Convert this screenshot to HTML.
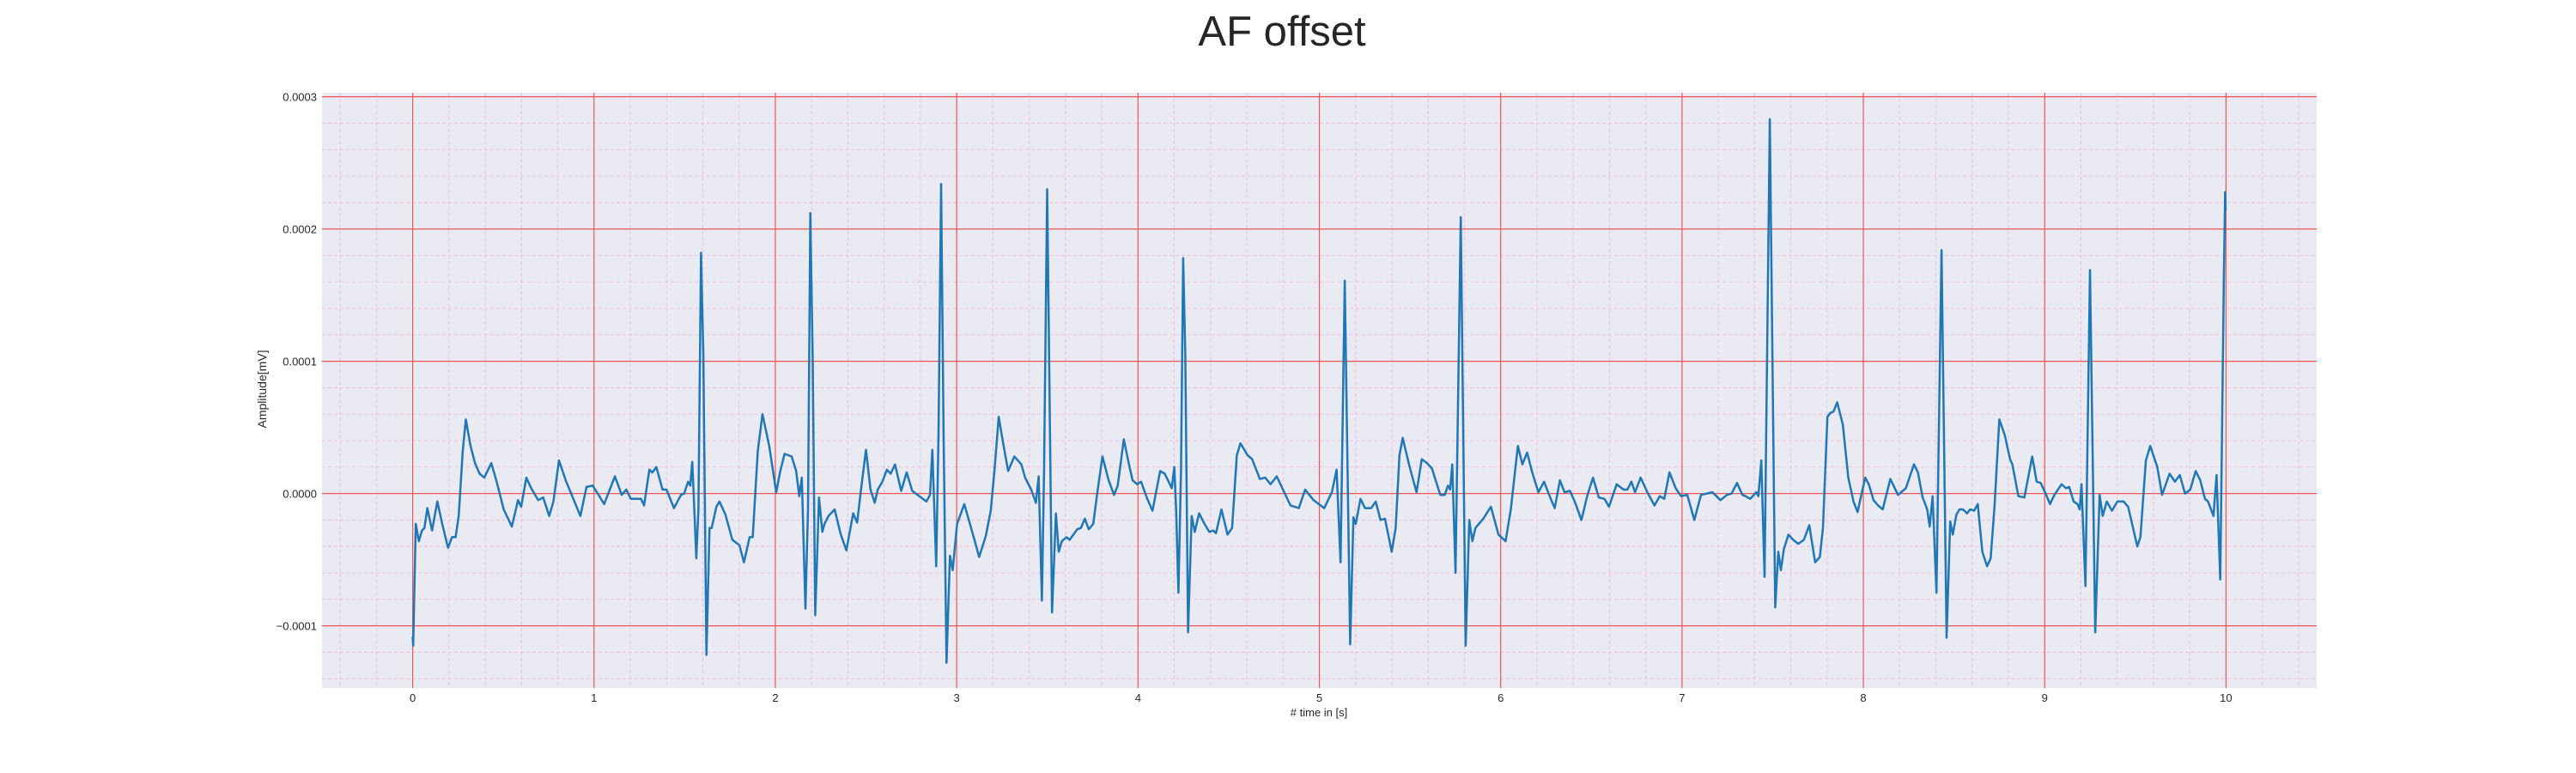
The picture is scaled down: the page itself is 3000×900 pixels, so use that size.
<!DOCTYPE html>
<html><head><meta charset="utf-8"><style>
html,body{margin:0;padding:0;background:#fff;}
svg{display:block;font-family:"Liberation Sans",sans-serif;}
</style></head><body>
<svg id="chart" width="3000" height="900" viewBox="0 0 3000 900">
<text x="1493" y="53" font-size="49" fill="#262626" text-anchor="middle">AF offset</text>
<rect x="375" y="108" width="2323" height="693" fill="#EAEAF2"/>
<g id="grid"></g>
<g id="series"></g>
<g id="ticks"></g>
<text x="1536" y="834" font-size="13" fill="#262626" text-anchor="middle"># time in [s]</text>
<text x="0" y="0" font-size="14" fill="#262626" text-anchor="middle" transform="translate(310,453) rotate(-90)">Amplitude[mV]</text>
</svg>
<script>
const xTicks=[0,1,2,3,4,5,6,7,8,9,10];
const xTickLabels=["0","1","2","3","4","5","6","7","8","9","10"];
const yTicks=[-0.0001,0,0.0001,0.0002,0.0003];
const yTickLabels=["\u22120.0001","0.0000","0.0001","0.0002","0.0003"];
const times=[0,0.003,0.017,0.034,0.051,0.065,0.081,0.107,0.136,0.163,0.195,0.217,0.237,0.254,0.276,0.293,0.319,0.344,0.369,0.395,0.434,0.463,0.502,0.547,0.581,0.598,0.627,0.654,0.692,0.720,0.753,0.776,0.807,0.844,0.895,0.925,0.959,0.993,1.056,1.115,1.153,1.178,1.203,1.259,1.276,1.305,1.322,1.344,1.378,1.4,1.441,1.480,1.497,1.519,1.531,1.542,1.553,1.564,1.576,1.590,1.603,1.620,1.637,1.649,1.675,1.692,1.725,1.763,1.802,1.827,1.858,1.875,1.903,1.929,1.966,2.005,2.027,2.051,2.090,2.115,2.132,2.146,2.166,2.180,2.193,2.206,2.220,2.241,2.259,2.271,2.293,2.327,2.361,2.392,2.429,2.451,2.475,2.500,2.525,2.548,2.565,2.590,2.615,2.636,2.660,2.694,2.724,2.755,2.794,2.833,2.853,2.866,2.887,2.900,2.914,2.928,2.944,2.963,2.978,3.002,3.042,3.073,3.098,3.124,3.161,3.188,3.208,3.232,3.259,3.284,3.318,3.357,3.377,3.411,3.437,3.452,3.470,3.482,3.499,3.512,3.526,3.547,3.563,3.580,3.606,3.623,3.665,3.685,3.707,3.728,3.753,3.775,3.804,3.838,3.868,3.888,3.922,3.949,3.970,3.995,4.017,4.051,4.080,4.122,4.147,4.169,4.186,4.200,4.210,4.223,4.237,4.249,4.261,4.276,4.296,4.313,4.337,4.367,4.393,4.415,4.430,4.460,4.494,4.519,4.545,4.565,4.604,4.629,4.672,4.701,4.731,4.765,4.799,4.841,4.887,4.922,4.968,5.027,5.069,5.095,5.117,5.140,5.170,5.188,5.201,5.227,5.252,5.286,5.311,5.337,5.362,5.399,5.421,5.442,5.460,5.498,5.536,5.565,5.594,5.621,5.667,5.692,5.709,5.721,5.733,5.751,5.780,5.807,5.827,5.844,5.861,5.904,5.946,5.988,6.027,6.056,6.095,6.120,6.146,6.174,6.208,6.239,6.267,6.298,6.327,6.352,6.382,6.411,6.445,6.479,6.509,6.541,6.572,6.597,6.640,6.677,6.699,6.721,6.741,6.772,6.809,6.848,6.877,6.902,6.931,6.965,6.995,7.029,7.068,7.105,7.168,7.212,7.249,7.274,7.303,7.333,7.350,7.376,7.410,7.421,7.437,7.455,7.484,7.514,7.531,7.545,7.562,7.587,7.613,7.641,7.672,7.702,7.734,7.760,7.777,7.802,7.819,7.836,7.856,7.887,7.917,7.946,7.968,8.010,8.030,8.056,8.081,8.107,8.149,8.191,8.234,8.279,8.301,8.327,8.352,8.366,8.382,8.403,8.431,8.459,8.479,8.493,8.513,8.530,8.550,8.572,8.589,8.611,8.631,8.656,8.682,8.702,8.724,8.750,8.780,8.809,8.822,8.855,8.888,8.931,8.956,8.978,9.005,9.029,9.054,9.093,9.118,9.135,9.160,9.181,9.193,9.203,9.225,9.250,9.279,9.303,9.320,9.342,9.371,9.401,9.435,9.460,9.511,9.528,9.558,9.582,9.621,9.647,9.689,9.718,9.745,9.774,9.803,9.833,9.858,9.884,9.901,9.931,9.948,9.968,9.988,9.995,9.998];
const amps=[-10.8,-11.5,-2.3,-3.6,-2.8,-2.6,-1.1,-2.8,-0.6,-2.3,-4.1,-3.3,-3.3,-1.7,3.2,5.6,3.6,2.3,1.5,1.2,2.3,0.9,-1.2,-2.5,-0.5,-1.0,1.2,0.4,-0.5,-0.3,-1.7,-0.6,2.5,1.0,-0.7,-1.7,0.5,0.6,-0.8,1.3,-0.1,0.3,-0.4,-0.4,-0.9,1.8,1.6,2.0,0.3,0.3,-1.1,-0.1,0,0.9,0.6,2.4,-1.2,-4.9,-1.2,18.2,10.5,-12.2,-2.6,-2.6,-1.0,-0.6,-1.6,-3.5,-3.9,-5.2,-3.3,-3.3,3.2,6.0,3.6,0.1,1.7,3.0,2.8,1.7,-0.2,1.2,-8.7,-1.2,21.2,10.0,-9.2,-0.3,-2.9,-2.3,-1.7,-1.2,-3.1,-4.3,-1.5,-2.2,0.6,3.3,0.3,-0.7,0.3,0.9,1.8,1.5,2.2,0.2,1.6,0.2,-0.2,-0.6,-0.1,3.3,-5.5,4.5,23.4,4.5,-12.8,-4.7,-5.8,-2.3,-0.8,-2.3,-3.5,-4.8,-3.2,-1.3,1.7,5.8,3.6,1.7,2.8,2.2,1.2,0.3,-0.7,1.3,-8.1,1.7,23.0,7.5,-9.0,-1.5,-4.4,-3.6,-3.3,-3.5,-2.7,-2.6,-1.9,-2.7,-2.3,0,2.8,1.0,-0.1,0.6,4.1,2.3,1.0,0.7,0.9,-0.4,-1.3,1.7,1.5,0.9,0.4,2.0,-1.2,-7.5,1.7,17.8,10.5,-10.5,-1.7,-2.9,-1.5,-2.3,-2.9,-2.8,-3.0,-1.2,-3.1,-2.6,2.9,3.8,2.9,2.6,1.1,1.2,0.7,1.3,0.3,-0.9,-1.1,0.3,-0.5,-1.1,0.1,1.8,-5.2,16.1,-11.4,-1.8,-2.3,-0.4,-1.1,-1.1,-0.6,-2.0,-1.9,-4.4,-2.6,2.9,4.2,2.0,0.1,2.6,2.3,1.9,-0.1,-0.1,0.6,0.3,2.2,-6.0,20.9,-11.5,-2.0,-3.6,-2.6,-1.9,-1.0,-3.1,-3.6,-1.2,3.6,2.2,3.1,1.6,0.1,0.9,-0.1,-1.1,1.0,0.1,0.2,-0.7,-2.0,-0.1,1.2,-0.3,-0.4,-1.0,0.7,0.3,0.3,0.9,0.1,1.2,0.1,-0.9,-0.2,-0.4,1.6,0.4,-0.2,-0.1,-2.0,-0.1,0.1,-0.5,-0.1,0,0.8,-0.1,-0.2,-0.4,0.1,-0.2,2.5,-6.3,28.3,-8.6,-4.4,-5.8,-4.2,-3.1,-3.5,-3.8,-3.5,-2.4,-5.2,-4.8,-2.6,5.8,6.1,6.2,6.9,5.2,1.2,-0.6,-1.4,1.2,0.7,-0.5,-0.9,-1.2,1.1,-0.1,0.4,2.2,1.6,-0.3,-1.2,-2.5,-0.2,-7.5,18.4,-10.9,-2.1,-3.1,-1.6,-1.2,-1.2,-1.5,-1.2,-1.3,-0.8,-4.4,-5.5,-4.9,-0.9,5.6,4.4,2.6,2.2,-0.2,-0.3,2.8,0.9,0.8,0,-0.8,-0.1,0.7,0.4,0.5,-0.6,-0.8,-1.2,0.7,-7.0,16.9,-10.5,-0.1,-1.7,-0.6,-1.3,-0.6,-0.6,-1.0,-4.0,-3.3,2.5,3.6,2.0,-0.1,1.5,0.9,1.4,0,0.3,1.7,1.0,-0.4,-0.6,-1.7,1.4,-6.5,16.3,22.8,21.4];

const SVGNS="http://www.w3.org/2000/svg";
const X0=375,X1=2698,Y0=108,Y1=801;
const xmin=-0.5,xmax=10.5,ymin=-0.000147,ymax=0.000303;
function sx(t){return X0+(t-xmin)/(xmax-xmin)*(X1-X0);}
function sy(v){return Y1-(v-ymin)/(ymax-ymin)*(Y1-Y0);}
function mk(tag,attrs,parent){const e=document.createElementNS(SVGNS,tag);for(const k in attrs)e.setAttribute(k,attrs[k]);parent.appendChild(e);return e;}
const grid=document.getElementById('grid');
const ticks=document.getElementById('ticks');
const series=document.getElementById('series');
for(let i=-2;i<=52;i++){const t=i*0.2;if(Math.abs(t-Math.round(t))<1e-6)continue;const x=sx(t);if(x<X0||x>X1)continue;
 const l=mk('line',{x1:x,x2:x,y1:Y0,y2:Y1,stroke:'#f2b6e0','stroke-width':0.9,'stroke-dasharray':'4,3'},grid);
 
 }
for(let i=-7;i<=15;i++){const v=i*0.00002;if(i%5===0)continue;const y=sy(v);if(y<Y0||y>Y1)continue;
 const l=mk('line',{x1:X0,x2:X1,y1:y,y2:y,stroke:'#f2b6e0','stroke-width':0.9,'stroke-dasharray':'4,3'},grid);
 
 }
xTicks.forEach((t,i)=>{const x=sx(t);
 const l=mk('line',{x1:x,x2:x,y1:Y0,y2:Y1,stroke:'#f05555','stroke-width':1.2},grid);
 
 
 const tx=mk('text',{x:x,y:817,'font-size':13,fill:'#262626','text-anchor':'middle'},ticks);tx.textContent=xTickLabels[i];
 
 });
yTicks.forEach((v,i)=>{const y=sy(v);
 const l=mk('line',{x1:X0,x2:X1,y1:y,y2:y,stroke:'#f05555','stroke-width':1.2},grid);
 
 
 const tx=mk('text',{x:369,y:y+5,'font-size':13,fill:'#262626','text-anchor':'end'},ticks);tx.textContent=yTickLabels[i];
 
 });
const pts=times.map((t,i)=>sx(t).toFixed(1)+','+sy(amps[i]*1e-5).toFixed(1)).join(' ');
const pl=mk('polyline',{points:pts,fill:'none',stroke:'#1f77b4','stroke-width':2.5,'stroke-linejoin':'round'},series);


</script>
</body></html>
